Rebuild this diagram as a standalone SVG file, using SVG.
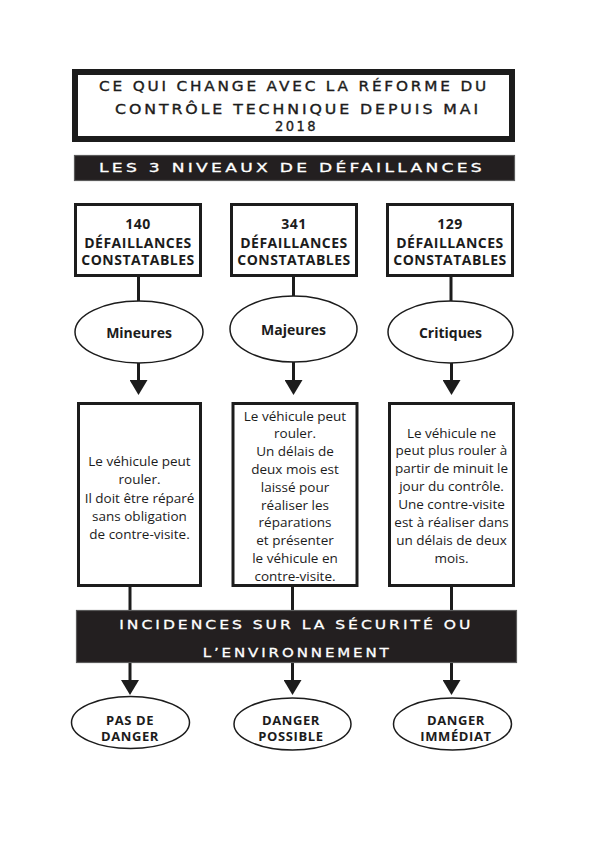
<svg xmlns="http://www.w3.org/2000/svg" width="591" height="842" viewBox="0 0 591 842">
<style>
.bg{fill:#ffffff}
.frame{fill:#ffffff;stroke:#1c1c1c;stroke-width:3}
.ell{fill:#ffffff;stroke:#1c1c1c;stroke-width:1.5}
.band{fill:#231f20;stroke:#5a5a5a;stroke-width:1.2}
.title{font-family:"DejaVu Sans",sans-serif;font-size:13.5px;letter-spacing:2.5px;fill:#1c1c1c;text-anchor:middle;stroke:#1c1c1c;stroke-width:0.35}
.bandt{font-family:"DejaVu Sans",sans-serif;font-size:13px;letter-spacing:2.5px;fill:#ffffff;text-anchor:middle;stroke:#ffffff;stroke-width:0.3}
.lbl{font-family:"Open Sans","Liberation Sans",sans-serif;font-size:14px;font-weight:bold;fill:#1c1c1c;text-anchor:middle}
.cap{letter-spacing:0.5px}
.sm{font-size:13px;letter-spacing:0.6px}
.body{font-family:"Open Sans","Liberation Sans",sans-serif;font-size:13.5px;fill:#1c1c1c;text-anchor:middle}
.conn line{stroke:#1c1c1c;stroke-width:3}
</style>
<defs>
<marker id="ah" viewBox="0 0 15 18" refX="0" refY="9" markerWidth="15" markerHeight="18" markerUnits="userSpaceOnUse" orient="auto">
<path d="M0,0 L15,9 L0,18 Z" fill="#1c1c1c"/>
</marker>
</defs>
<rect class="bg" x="0" y="0" width="591" height="842"/>

<g id="connectors" class="conn">
<line x1="138.5" y1="277" x2="138.5" y2="302"/>
<line x1="293.5" y1="277" x2="293.5" y2="297"/>
<line x1="451" y1="277" x2="451" y2="302"/>
<line x1="138.5" y1="363" x2="138.5" y2="380" marker-end="url(#ah)"/>
<line x1="293.5" y1="362" x2="293.5" y2="380" marker-end="url(#ah)"/>
<line x1="451.5" y1="363" x2="451.5" y2="380" marker-end="url(#ah)"/>
<line x1="130" y1="587" x2="130" y2="610"/>
<line x1="292.5" y1="587" x2="292.5" y2="610"/>
<line x1="451.5" y1="587" x2="451.5" y2="610"/>
<line x1="130" y1="663" x2="130" y2="680" marker-end="url(#ah)"/>
<line x1="292.5" y1="663" x2="292.5" y2="680" marker-end="url(#ah)"/>
<line x1="451.5" y1="663" x2="451.5" y2="680" marker-end="url(#ah)"/>
</g>

<g id="title">
<rect x="75" y="72" width="437" height="67" fill="#ffffff" stroke="#1c1c1c" stroke-width="6"/>
<text class="title" x="294" y="91" textLength="390" lengthAdjust="spacingAndGlyphs">CE QUI CHANGE AVEC LA RÉFORME DU</text>
<text class="title" x="298" y="113.5" textLength="366" lengthAdjust="spacingAndGlyphs">CONTRÔLE TECHNIQUE DEPUIS MAI</text>
<text class="title" x="296.5" y="131" textLength="43" lengthAdjust="spacingAndGlyphs">2018</text>
</g>

<g id="niveaux">
<rect class="band" x="74.5" y="155.5" width="440" height="25"/>
<text class="bandt" x="292" y="172" textLength="386" lengthAdjust="spacingAndGlyphs">LES 3 NIVEAUX DE DÉFAILLANCES</text>
</g>

<g id="box140">
<rect class="frame" x="75.5" y="204.5" width="125" height="71"/>
<text class="lbl cap" x="138" y="228.5">140</text>
<text class="lbl cap" x="138" y="247.5">DÉFAILLANCES</text>
<text class="lbl cap" x="138" y="265">CONSTATABLES</text>
</g>
<g id="box341">
<rect class="frame" x="231.5" y="204.5" width="125" height="71"/>
<text class="lbl cap" x="294" y="228.5">341</text>
<text class="lbl cap" x="294" y="247.5">DÉFAILLANCES</text>
<text class="lbl cap" x="294" y="265">CONSTATABLES</text>
</g>
<g id="box129">
<rect class="frame" x="387.5" y="204.5" width="125" height="71"/>
<text class="lbl cap" x="450" y="228.5">129</text>
<text class="lbl cap" x="450" y="247.5">DÉFAILLANCES</text>
<text class="lbl cap" x="450" y="265">CONSTATABLES</text>
</g>

<g id="mineures">
<ellipse class="ell" cx="139" cy="332" rx="64" ry="31"/>
<text class="lbl" x="139" y="338">Mineures</text>
</g>
<g id="majeures">
<ellipse class="ell" cx="293.5" cy="329" rx="63.5" ry="33"/>
<text class="lbl" x="293.5" y="335">Majeures</text>
</g>
<g id="critiques">
<ellipse class="ell" cx="450.5" cy="332" rx="62.5" ry="31"/>
<text class="lbl" x="450.5" y="338">Critiques</text>
</g>

<g id="desc-mineures">
<rect class="frame" x="78.5" y="403.5" width="122" height="182"/>
<text class="body" x="139.5" y="466">Le véhicule peut</text>
<text class="body" x="139.5" y="484.3">rouler.</text>
<text class="body" x="139.5" y="502.6">Il doit être réparé</text>
<text class="body" x="139.5" y="520.9">sans obligation</text>
<text class="body" x="139.5" y="539.2">de contre-visite.</text>
</g>
<g id="desc-majeures">
<rect class="frame" x="233" y="403.5" width="124" height="182"/>
<text class="body" x="295" y="420.5">Le véhicule peut</text>
<text class="body" x="295" y="438.3">rouler.</text>
<text class="body" x="295" y="456.1">Un délais de</text>
<text class="body" x="295" y="473.9">deux mois est</text>
<text class="body" x="295" y="491.7">laissé pour</text>
<text class="body" x="295" y="509.5">réaliser les</text>
<text class="body" x="295" y="527.3">réparations</text>
<text class="body" x="295" y="545.1">et présenter</text>
<text class="body" x="295" y="562.9">le véhicule en</text>
<text class="body" x="295" y="580.7">contre-visite.</text>
</g>
<g id="desc-critiques">
<rect class="frame" x="389.5" y="403.5" width="124" height="182"/>
<text class="body" x="451.5" y="437.5">Le véhicule ne</text>
<text class="body" x="451.5" y="455.4">peut plus rouler à</text>
<text class="body" x="451.5" y="473.2">partir de minuit le</text>
<text class="body" x="451.5" y="491.1">jour du contrôle.</text>
<text class="body" x="451.5" y="508.9">Une contre-visite</text>
<text class="body" x="451.5" y="526.8">est à réaliser dans</text>
<text class="body" x="451.5" y="544.6">un délais de deux</text>
<text class="body" x="451.5" y="562.5">mois.</text>
</g>

<g id="incidences">
<rect class="band" x="76.5" y="610.5" width="440" height="52"/>
<text class="bandt" x="296.3" y="629" textLength="354" lengthAdjust="spacingAndGlyphs">INCIDENCES SUR LA SÉCURITÉ OU</text>
<text class="bandt" x="297.2" y="656.5" textLength="189" lengthAdjust="spacingAndGlyphs">L’ENVIRONNEMENT</text>
</g>

<g id="pas-de-danger">
<ellipse class="ell" cx="130.5" cy="722.5" rx="59" ry="26"/>
<text class="lbl sm" x="130" y="724.5">PAS DE</text>
<text class="lbl sm" x="130" y="741">DANGER</text>
</g>
<g id="danger-possible">
<ellipse class="ell" cx="292.5" cy="724" rx="58.5" ry="26"/>
<text class="lbl sm" x="291" y="724.5">DANGER</text>
<text class="lbl sm" x="291" y="741">POSSIBLE</text>
</g>
<g id="danger-immediat">
<ellipse class="ell" cx="452.5" cy="724" rx="59" ry="26"/>
<text class="lbl sm" x="456" y="724.5">DANGER</text>
<text class="lbl sm" x="456" y="741">IMMÉDIAT</text>
</g>
</svg>
